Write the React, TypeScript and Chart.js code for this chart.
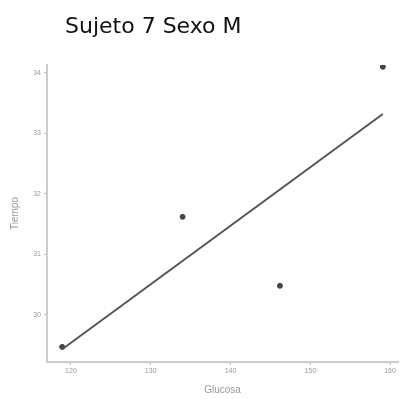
import React, { useEffect, useRef } from "react";
import { Chart, registerables } from "chart.js";

Chart.register(...registerables);

const titleText = "Sujeto 7 Sexo M";
const xLabel = "Glucosa";
const yLabel = "Tiempo";
const glucosa = [118.9, 134.0, 146.2, 159.1];
const tiempo = [29.47, 31.62, 30.48, 34.1];
const fitX = [118.9, 159.1];
const fitY = [29.43, 33.32];
const xTicks = [120, 130, 140, 150, 160];
const yTicks = [30, 31, 32, 33, 34];

const titlePlugin = {
  id: "customTitle",
  afterDraw(chart: any) {
    const ctx = chart.ctx;
    ctx.save();
    ctx.font = "22px 'DejaVu Sans', sans-serif";
    ctx.fillStyle = "#111";
    ctx.textBaseline = "alphabetic";
    ctx.fillText(titleText, 65, 33);
    ctx.restore();
  },
};

export default function App() {
  const ref = useRef<HTMLCanvasElement>(null);
  useEffect(() => {
    const chart = new Chart(ref.current!, {
      type: "scatter",
      data: {
        datasets: [
          {
            type: "line",
            data: fitX.map((x, i) => ({ x, y: fitY[i] })),
            borderColor: "#555",
            borderWidth: 2,
            pointRadius: 0,
          } as any,
          {
            data: glucosa.map((x, i) => ({ x, y: tiempo[i] })),
            backgroundColor: "#444",
            borderColor: "#444",
            pointRadius: 2.5,
          },
        ],
      },
      options: {
        animation: false,
        responsive: false,
        devicePixelRatio: 1,
        layout: { padding: { top: 65, right: 4, left: 0, bottom: 0 } },
        plugins: { legend: { display: false }, tooltip: { enabled: false }, title: { display: false } },
        scales: {
          x: {
            type: "linear",
            min: 117,
            max: 161,
            afterBuildTicks: (s: any) => { s.ticks = xTicks.map((v) => ({ value: v })); },
            afterFit: (s: any) => { s.height = 37; },
            ticks: { color: "#999", font: { size: 7, family: "'Liberation Sans', sans-serif" }, padding: 2, maxRotation: 0 },
            grid: { drawOnChartArea: false, drawTicks: true, tickLength: 3, color: "#bbb" },
            border: { color: "#ccc", width: 2 },
            title: { display: true, text: xLabel, color: "#999", font: { size: 10, family: "'Liberation Sans', sans-serif" }, padding: { top: 4, bottom: 3 } },
          },
          y: {
            type: "linear",
            min: 29.22,
            max: 34.13,
            afterBuildTicks: (s: any) => { s.ticks = yTicks.map((v) => ({ value: v })); },
            afterFit: (s: any) => { s.width = 47; },
            ticks: { color: "#999", font: { size: 7, family: "'Liberation Sans', sans-serif" }, padding: 3 },
            grid: { drawOnChartArea: false, drawTicks: true, tickLength: 3, color: "#bbb" },
            border: { color: "#ccc", width: 2 },
            title: { display: true, text: yLabel, color: "#999", font: { size: 10, family: "'Liberation Sans', sans-serif" }, padding: { top: 9, bottom: 4 } },
          },
        },
      },
      plugins: [titlePlugin],
    } as any);
    return () => chart.destroy();
  }, []);
  return (
    <div style={{ position: "fixed", left: 0, top: 0, width: 403, height: 399, background: "#fff" }}>
      <canvas ref={ref} width={403} height={399} style={{ width: 403, height: 399, display: "block" }} />
    </div>
  );
}
